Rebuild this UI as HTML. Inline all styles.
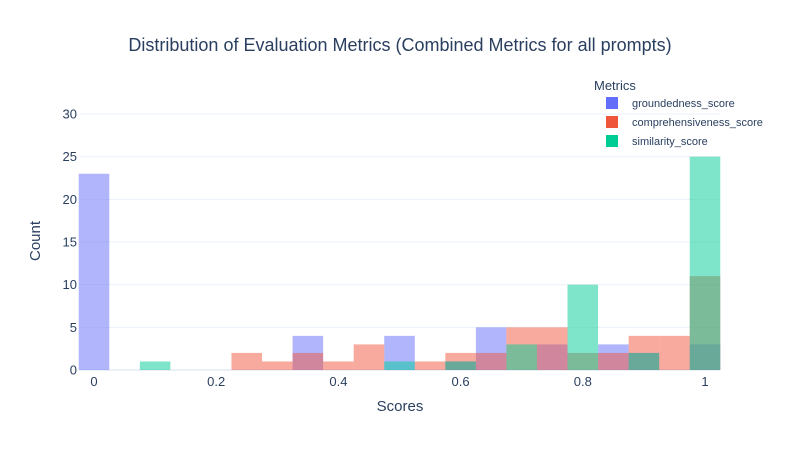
<!DOCTYPE html>
<html><head><meta charset="utf-8"><style>
body{margin:0;background:#fff;font-family:"Liberation Sans",sans-serif}
</style></head><body>
<svg width="800" height="450" xmlns="http://www.w3.org/2000/svg" font-family="Liberation Sans, sans-serif">
<rect width="800" height="450" fill="#fff"/>
<g id="grid"></g>
<g id="bars"></g>
<g id="axes"></g>
<text x="400" y="51" text-anchor="middle" font-size="18" fill="#2a3f5f">Distribution of Evaluation Metrics (Combined Metrics for all prompts)</text>
<text x="400" y="411" text-anchor="middle" font-size="15" fill="#2a3f5f">Scores</text>
<text transform="translate(40,241) rotate(-90)" text-anchor="middle" font-size="15" fill="#2a3f5f">Count</text>
<g>
<text x="594" y="90" font-size="13" fill="#2a3f5f">Metrics</text>
<g><rect x="606" y="97" width="12" height="12" fill="#636efa"/><text x="632" y="107" font-size="11" fill="#2a3f5f">groundedness_score</text></g>
<g><rect x="606" y="116" width="12" height="12" fill="#EF553B"/><text x="632" y="126" font-size="11" fill="#2a3f5f">comprehensiveness_score</text></g>
<g><rect x="606" y="135" width="12" height="12" fill="#00cc96"/><text x="632" y="145" font-size="11" fill="#2a3f5f">similarity_score</text></g>
</g>
</svg>
<script>
const binCenters=[0,0.05,0.1,0.15,0.2,0.25,0.3,0.35,0.4,0.45,0.5,0.55,0.6,0.65,0.7,0.75,0.8,0.85,0.9,0.95,1];
const groundedness=[23,0,0,0,0,0,0,4,0,0,4,0,1,5,0,3,0,3,2,0,3];
const comprehensiveness=[0,0,0,0,0,2,1,2,1,3,0,1,2,2,5,5,2,2,4,4,11];
const similarity=[0,0,1,0,0,0,0,0,0,0,1,0,1,0,3,0,10,0,2,0,25];
const yTicks=[0,5,10,15,20,25,30];
const xTicks=[0,0.2,0.4,0.6,0.8,1];
const binWidth=0.05;
const NS="http://www.w3.org/2000/svg";
const xs=v=>94+(v)*611;
const ys=v=>370-v*(256/30);
function mk(tag,attrs,parent){const e=document.createElementNS(NS,tag);for(const k in attrs)e.setAttribute(k,attrs[k]);parent.appendChild(e);return e;}
const grid=document.getElementById('grid'),bars=document.getElementById('bars'),axes=document.getElementById('axes');
yTicks.forEach(t=>{
  if(t>0){const l=mk('line',{x1:80,x2:720,y1:ys(t),y2:ys(t),stroke:'#ebf0f8','stroke-width':1},grid);
  
  }
  const tx=mk('text',{x:77,y:ys(t)+4.5,'text-anchor':'end','font-size':13,fill:'#2a3f5f'},axes);
  tx.textContent=t;
  
  
});
xTicks.forEach(t=>{
  const tx=mk('text',{x:xs(t),y:386,'text-anchor':'middle','font-size':13,fill:'#2a3f5f'},axes);
  tx.textContent=t;
  
  
});
const series=[[groundedness,'#636efa','groundedness'],[comprehensiveness,'#EF553B','comprehensiveness'],[similarity,'#00cc96','similarity']];
series.forEach(([vals,col,name])=>{
  vals.forEach((v,i)=>{
    if(!v)return;
    const x0=xs(binCenters[i]-binWidth/2),x1=xs(binCenters[i]+binWidth/2);
    const r=mk('rect',{x:x0,y:ys(v),width:x1-x0,height:ys(0)-ys(v),fill:col,'fill-opacity':0.5},bars);
    
    
  });
});
const zl=mk('line',{x1:80,x2:720,y1:ys(0),y2:ys(0),stroke:'#ebf0f8','stroke-width':2},grid);


</script>
</body></html>
